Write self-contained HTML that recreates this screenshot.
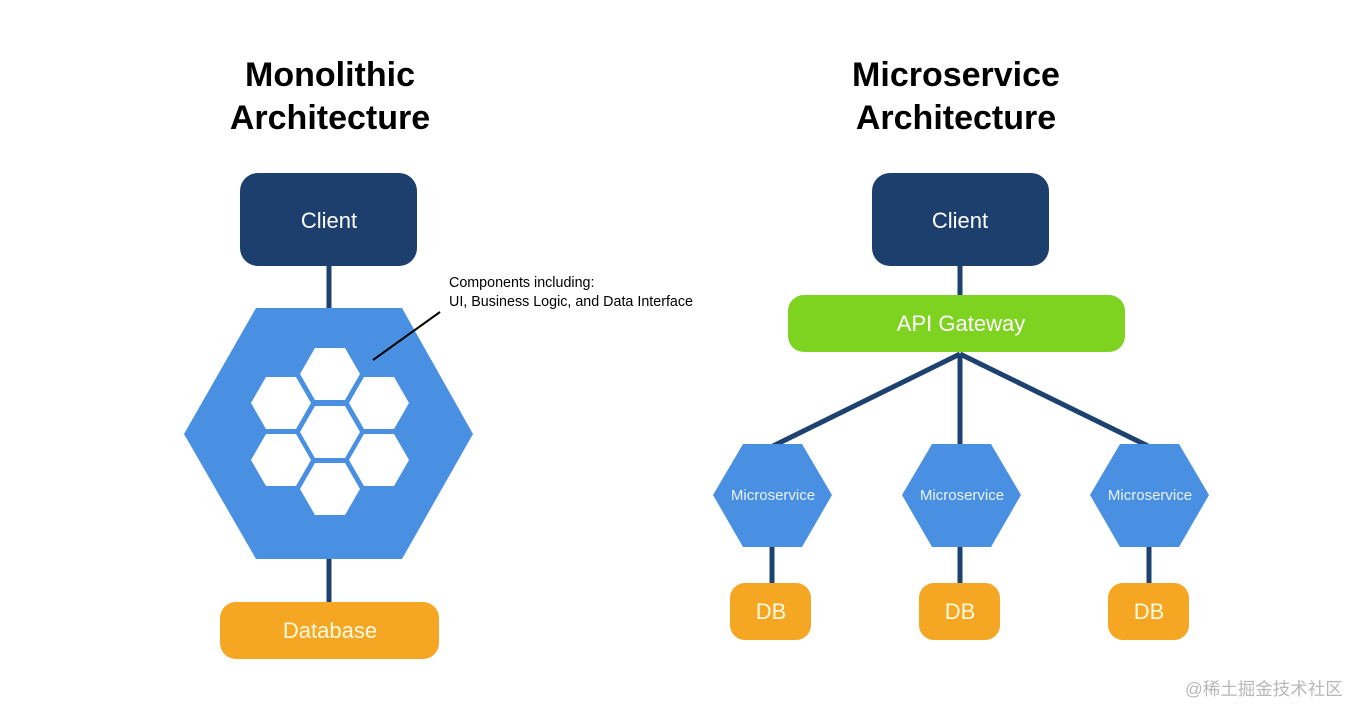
<!DOCTYPE html>
<html><head><meta charset="utf-8"><style>
html,body{margin:0;padding:0;background:#fff;}
svg{display:block}
</style></head><body>
<svg width="1366" height="719" xmlns="http://www.w3.org/2000/svg" font-family="Liberation Sans, sans-serif">
<rect width="1366" height="719" fill="#fff"/>
<g font-weight="bold" font-size="34" fill="#000" text-anchor="middle">
<text x="330" y="86">Monolithic</text>
<text x="330" y="129">Architecture</text>
<text x="956" y="86">Microservice</text>
<text x="956" y="129">Architecture</text>
</g>
<g stroke="#1d4270" stroke-width="5">
<line x1="329" y1="260" x2="329" y2="315"/>
<line x1="329" y1="555" x2="329" y2="610"/>
<line x1="960" y1="260" x2="960" y2="300"/>
<line x1="960" y1="354" x2="773" y2="446"/>
<line x1="960" y1="354" x2="960" y2="446"/>
<line x1="960" y1="354" x2="1148" y2="446"/>
<line x1="772" y1="540" x2="772" y2="590"/>
<line x1="960" y1="540" x2="960" y2="590"/>
<line x1="1149" y1="540" x2="1149" y2="590"/>
</g>
<rect x="240" y="173" width="177" height="93" rx="18" fill="#1d3f6e"/>
<rect x="872" y="173" width="177" height="93" rx="18" fill="#1d3f6e"/>
<g fill="#fff" font-size="22" text-anchor="middle">
<text x="329" y="228">Client</text>
<text x="960" y="228">Client</text>
</g>
<rect x="788" y="295" width="337" height="57" rx="16" fill="#7ed321"/>
<text x="961" y="331" fill="#fff" font-size="22" text-anchor="middle">API Gateway</text>
<rect x="220" y="602" width="219" height="57" rx="16" fill="#f5a623"/>
<text x="330" y="638" fill="#fffbe0" font-size="22" text-anchor="middle">Database</text>
<polygon points="184,434 256,308 402,308 473,434 402,559 256,559" fill="#4a90e2"/>
<g fill="#fff">
<polygon id="h" points="300,374 315,348 345,348 360,374 345,400 315,400"/>
<use href="#h" y="58"/>
<use href="#h" y="115"/>
<use href="#h" x="-49" y="29"/>
<use href="#h" x="49" y="29"/>
<use href="#h" x="-49" y="86"/>
<use href="#h" x="49" y="86"/>
</g>
<line x1="440" y1="312" x2="373" y2="360" stroke="#000" stroke-width="2"/>
<g font-size="14.3" fill="#000">
<text x="449" y="287">Components including:</text>
<text x="449" y="306">UI, Business Logic, and Data Interface</text>
</g>
<g fill="#4a90e2">
<polygon points="713,495 743,444 802,444 832,495 802,547 743,547"/>
<polygon points="902,495 932,444 991,444 1021,495 991,547 932,547"/>
<polygon points="1090,495 1120,444 1179,444 1209,495 1179,547 1120,547"/>
</g>
<g fill="#e8f2ff" font-size="15" text-anchor="middle">
<text x="773" y="500">Microservice</text>
<text x="962" y="500">Microservice</text>
<text x="1150" y="500">Microservice</text>
</g>
<g fill="#f5a623">
<rect x="730" y="583" width="81" height="57" rx="15"/>
<rect x="919" y="583" width="81" height="57" rx="15"/>
<rect x="1108" y="583" width="81" height="57" rx="15"/>
</g>
<g fill="#fffbe0" font-size="22" text-anchor="middle">
<text x="771" y="619">DB</text>
<text x="960" y="619">DB</text>
<text x="1149" y="619">DB</text>
</g>
<text x="1185" y="695" font-size="17.5" fill="#b8b8b8" font-family="Liberation Sans, Noto Sans CJK SC, sans-serif">@稀土掘金技术社区</text>
</svg>
</body></html>
